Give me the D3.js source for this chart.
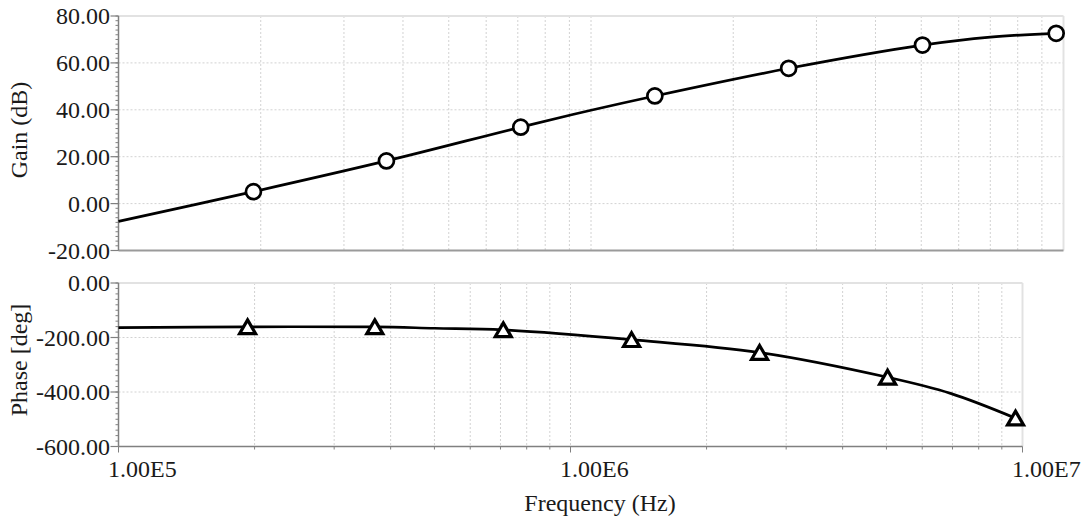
<!DOCTYPE html>
<html>
<head>
<meta charset="utf-8">
<script src="https://cdn.jsdelivr.net/npm/d3@7"></script>
<style>
  html, body { margin: 0; padding: 0; background: #fff; }
  svg { display: block; }
  text { font-family: "Liberation Serif", "Times New Roman", serif; fill: #1a1a1a; }
</style>
</head>
<body>
<svg id="chart" width="1089" height="522"></svg>
<script>
// ---- data ----
const markerFreq = [1.93e5, 3.69e5, 7.1e5, 1.365e6, 2.62e6, 5.03e6, 9.65e6];
const gainMarkers = [5.1, 18.2, 32.6, 45.9, 57.7, 67.6, 72.6];
const phaseMarkers = [-161, -161, -172, -208, -255, -346, -496];

const gainCurveFreq = [1e5, 1.93e5, 3.69e5, 7.1e5, 1e6, 1.365e6, 2.62e6, 5.03e6, 7.0e6, 9.65e6];
const gainCurveVal  = [-7.6, 5.1, 18.2, 32.6, 39.8, 45.9, 57.7, 67.6, 71.0, 72.6];

const phaseCurveFreq = [1e5, 1.93e5, 3.69e5, 5.0e5, 7.1e5, 1.365e6, 2.62e6, 5.03e6, 6.93e6, 9.65e6];
const phaseCurveVal  = [-164, -161, -161, -166, -172, -208, -255, -346, -405, -496];

const gainTicks = [80, 60, 40, 20, 0, -20];
const phaseTicks = [0, -200, -400, -600];
const freqTicks = [1e5, 1e6, 1e7];
const freqTickLabels = ["1.00E5", "1.00E6", "1.00E7"];

const xTitle = "Frequency (Hz)";
const gainTitle = "Gain (dB)";
const phaseTitle = "Phase [deg]";

// ---- layout ----
const svg = d3.select("#chart");
const fontSize = 24;
const fmt = v => d3.format(".2f")(v).replace("\u2212", "-");

const xTop = d3.scaleLog().domain([1e5, 1e7]).range([118.5, 1063.5]);
const xBot = d3.scaleLog().domain([1e5, 1e7]).range([118.5, 1022.5]);
const yGain = d3.scaleLinear().domain([-20, 80]).range([250.5, 16]);
const yPhase = d3.scaleLinear().domain([-600, 0]).range([446.5, 283]);

const minorFreqs = [];
[1e5, 1e6].forEach(d => { for (let k = 1; k <= 9; k++) minorFreqs.push(d * k); });
minorFreqs.push(1e7);

function drawPanel(x, y, yTicks, minorStep, curveF, curveV, mF, mV, marker, showXAxis, title, titleY) {
  const [x0, x1] = x.range();
  const [yb, yt] = y.range();
  const g = svg.append("g");

  // grid
  g.append("g").selectAll("line.vg")
    .data(minorFreqs.filter(f => f > 1e5 && f < 1e7))
    .join("line")
    .attr("x1", d => x(d)).attr("x2", d => x(d))
    .attr("y1", yt).attr("y2", yb)
    .attr("stroke", "#d2d2d2").attr("stroke-width", 1).attr("stroke-dasharray", "2,2");
  g.append("g").selectAll("line.hg")
    .data(yTicks.filter(v => v !== y.domain()[0] && v !== y.domain()[1]))
    .join("line")
    .attr("x1", x0).attr("x2", x1)
    .attr("y1", d => y(d)).attr("y2", d => y(d))
    .attr("stroke", "#d2d2d2").attr("stroke-width", 1).attr("stroke-dasharray", "2,2");

  // frame: top & right light
  g.append("line").attr("x1", x0).attr("x2", x1).attr("y1", yt).attr("y2", yt)
    .attr("stroke", "#e2e2e2").attr("stroke-width", 2);
  g.append("line").attr("x1", x1).attr("x2", x1).attr("y1", yt).attr("y2", yb)
    .attr("stroke", "#e2e2e2").attr("stroke-width", 2);

  // bottom axis line
  g.append("line").attr("x1", x0).attr("x2", x1).attr("y1", yb).attr("y2", yb)
    .attr("stroke", showXAxis ? "#808080" : "#9a9a9a").attr("stroke-width", showXAxis ? 1.5 : 2);

  // left axis with minor ticks
  const [d0, d1] = y.domain();
  const minors = d3.range(d0, d1 + minorStep / 2, minorStep);
  g.append("g").selectAll("line")
    .data(minors).join("line")
    .attr("x1", x0 - 3).attr("x2", x0)
    .attr("y1", d => y(d)).attr("y2", d => y(d))
    .attr("stroke", "#808080").attr("stroke-width", 1);
  g.append("g").selectAll("line")
    .data(yTicks).join("line")
    .attr("x1", x0 - 8).attr("x2", x0)
    .attr("y1", d => y(d)).attr("y2", d => y(d))
    .attr("stroke", "#808080").attr("stroke-width", 1.2);
  g.append("line").attr("x1", x0).attr("x2", x0).attr("y1", yt).attr("y2", yb)
    .attr("stroke", "#808080").attr("stroke-width", 1.5);
  g.append("g").selectAll("text")
    .data(yTicks).join("text")
    .attr("x", x0 - 8.5).attr("y", d => y(d))
    .attr("dy", "0.34em")
    .attr("text-anchor", "end")
    .attr("font-size", fontSize)
    .text(d => fmt(d));

  // y title
  g.append("text")
    .attr("transform", `translate(27,${titleY}) rotate(-90)`)
    .attr("text-anchor", "middle")
    .attr("font-size", fontSize)
    .text(title);

  if (showXAxis) {
    g.append("g").selectAll("line")
      .data(minorFreqs).join("line")
      .attr("x1", d => x(d)).attr("x2", d => x(d))
      .attr("y1", yb).attr("y2", d => yb + (freqTicks.includes(d) ? 6 : 3))
      .attr("stroke", "#808080").attr("stroke-width", 1);
    g.append("g").selectAll("text")
      .data(freqTicks).join("text")
      .attr("x", d => x(d) - 10.5).attr("y", 477)
      .attr("font-size", fontSize)
      .text((d, i) => freqTickLabels[i]);
  }

  // curve
  const pts = curveF.map((f, i) => [x(f), y(curveV[i])]);
  g.append("path")
    .attr("d", d3.line().curve(d3.curveCatmullRom.alpha(0.5))(pts))
    .attr("fill", "none").attr("stroke", "#000").attr("stroke-width", 2.7)
    .attr("stroke-linejoin", "round");

  // markers
  const mg = g.append("g").selectAll("g")
    .data(mF.map((f, i) => [f, mV[i]])).join("g")
    .attr("transform", d => `translate(${x(d[0])},${y(d[1])})`);
  if (marker === "circle") {
    mg.append("circle").attr("r", 7.5)
      .attr("fill", "#fff").attr("stroke", "#000").attr("stroke-width", 2.7);
  } else {
    mg.append("path").attr("d", "M0,-7L8,6.8L-8,6.8Z")
      .attr("fill", "#fff").attr("stroke", "#000").attr("stroke-width", 3.2)
      .attr("stroke-linejoin", "miter");
  }
}

drawPanel(xTop, yGain, gainTicks, 2, gainCurveFreq, gainCurveVal, markerFreq, gainMarkers, "circle", false, gainTitle, 130);
drawPanel(xBot, yPhase, phaseTicks, 20, phaseCurveFreq, phaseCurveVal, markerFreq, phaseMarkers, "triangle", true, phaseTitle, 360);

svg.append("text")
  .attr("x", 600).attr("y", 511)
  .attr("text-anchor", "middle")
  .attr("font-size", fontSize)
  .text(xTitle);
</script>
</body>
</html>
